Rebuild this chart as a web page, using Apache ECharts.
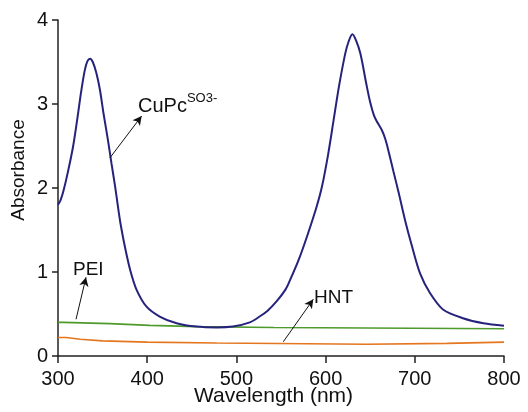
<!DOCTYPE html>
<html>
<head>
<meta charset="utf-8">
<script src="https://cdn.jsdelivr.net/npm/echarts@6/dist/echarts.min.js"></script>
<style>
  html, body { margin: 0; padding: 0; background: #fff; }
  #chart { width: 528px; height: 412px; }
</style>
</head>
<body>
<div id="chart"></div>
<script>
// UV-vis spectra: wavelength (nm) vs absorbance
const cupcWavelength = [300, 303, 306, 311.5, 317, 322, 326, 330, 333, 336, 339, 343, 347, 351, 356, 360, 364, 368, 370, 375, 381, 388, 399, 414, 433, 455, 478, 496, 515, 526, 535, 545, 555, 560, 570, 580, 590, 596, 603, 609, 615, 622, 626, 630, 634, 639, 646, 650, 654, 657, 663, 667, 671, 676, 682, 689, 697, 706, 717, 732, 754, 777, 800];
const cupcAbsorbance = [1.80, 1.86, 1.96, 2.21, 2.50, 2.85, 3.15, 3.40, 3.51, 3.54, 3.50, 3.37, 3.17, 2.89, 2.57, 2.29, 2.02, 1.72, 1.58, 1.30, 1.02, 0.79, 0.59, 0.47, 0.39, 0.35, 0.34, 0.35, 0.40, 0.47, 0.54, 0.65, 0.79, 0.90, 1.15, 1.45, 1.78, 2.02, 2.41, 2.81, 3.21, 3.60, 3.75, 3.83, 3.76, 3.60, 3.22, 3.02, 2.87, 2.80, 2.69, 2.58, 2.42, 2.20, 1.94, 1.62, 1.30, 0.98, 0.75, 0.55, 0.45, 0.39, 0.36];

const peiWavelength = [300, 306, 358, 403, 456, 542, 800];
const peiAbsorbance = [0.40, 0.385, 0.365, 0.35, 0.34, 0.325, 0.325];

const hntWavelength = [300, 309, 325, 350, 400, 478, 646, 736, 800];
const hntAbsorbance = [0.22, 0.20, 0.18, 0.165, 0.155, 0.14, 0.15, 0.165, 0.165];

const xTicks = [300, 400, 500, 600, 700, 800];
const yTicks = [0, 1, 2, 3, 4];

const FONT = "'Liberation Sans', Arial, sans-serif";
const INK = '#111';

function pairs(xs, ys) { return xs.map((x, i) => [x, ys[i]]); }

// Annotation arrow from a point on a trace toward its label
function arrow(from, to) {
  return [
    { coord: from, symbol: 'none' },
    { coord: to, symbol: 'arrow' }
  ];
}

const chart = echarts.init(document.getElementById('chart'), null, { renderer: 'canvas' });

chart.setOption({
  animation: false,
  backgroundColor: '#fff',
  grid: { left: 58, right: 24, top: 20, bottom: 56 },
  xAxis: {
    type: 'value',
    min: xTicks[0], max: xTicks[xTicks.length - 1], interval: 100,
    axisLine: { show: true, lineStyle: { color: '#222', width: 1.5 } },
    axisTick: { show: true, inside: false, length: 7, lineStyle: { color: '#222', width: 1.5 } },
    axisLabel: { color: INK, fontSize: 20, fontFamily: FONT, margin: 13 },
    splitLine: { show: false }
  },
  yAxis: {
    type: 'value',
    min: yTicks[0], max: yTicks[yTicks.length - 1], interval: 1,
    axisLine: { show: true, lineStyle: { color: '#222', width: 1.5 } },
    axisTick: { show: true, inside: false, length: 6, lineStyle: { color: '#222', width: 1.5 } },
    axisLabel: { color: INK, fontSize: 20, fontFamily: FONT, margin: 10 },
    splitLine: { show: false }
  },
  series: [
    {
      name: 'HNT',
      type: 'line',
      step: 'end',
      data: pairs(hntWavelength, hntAbsorbance),
      showSymbol: false,
      lineStyle: { color: '#e4761f', width: 1.6 },
      markLine: {
        silent: true,
        symbolSize: [7, 9],
        lineStyle: { color: '#111', width: 1, type: 'solid' },
        label: { show: false },
        data: [
          arrow([552.6, 0.17], [586.2, 0.675]),
          arrow([320.2, 0.437], [331.4, 0.937]),
          arrow([358.3, 2.36], [393.8, 2.857])
        ]
      }
    },
    {
      name: 'PEI',
      type: 'line',
      step: 'end',
      data: pairs(peiWavelength, peiAbsorbance),
      showSymbol: false,
      lineStyle: { color: '#4e9a2c', width: 1.6 }
    },
    {
      name: 'CuPc',
      type: 'line',
      data: pairs(cupcWavelength, cupcAbsorbance),
      showSymbol: false,
      smooth: 0.3,
      lineStyle: { color: '#25237c', width: 2 }
    }
  ],
  graphic: [
    {
      type: 'text', left: 138, top: 92,
      style: {
        text: '{m|CuPc}{s|SO3-}',
        rich: {
          m: { fontSize: 20, fontFamily: FONT, fill: INK, verticalAlign: 'bottom', lineHeight: 24 },
          s: { fontSize: 13, fontFamily: FONT, fill: INK, verticalAlign: 'top', lineHeight: 24, padding: [0, 0, 10, 0] }
        }
      }
    },
    { type: 'text', left: 73, top: 260, style: { text: 'PEI', fontSize: 19, fontFamily: FONT, fill: INK } },
    { type: 'text', left: 314, top: 288, style: { text: 'HNT', fontSize: 19, fontFamily: FONT, fill: INK } },
    {
      type: 'text', left: 194, top: 386,
      style: { text: 'Wavelength (nm)', fontSize: 21, fontFamily: FONT, fill: INK }
    },
    {
      type: 'text', x: 9, y: 170, rotation: Math.PI / 2,
      style: { text: 'Absorbance', fontSize: 19, fontFamily: FONT, fill: INK, align: 'center', verticalAlign: 'top' }
    }
  ]
});
</script>
</body>
</html>
